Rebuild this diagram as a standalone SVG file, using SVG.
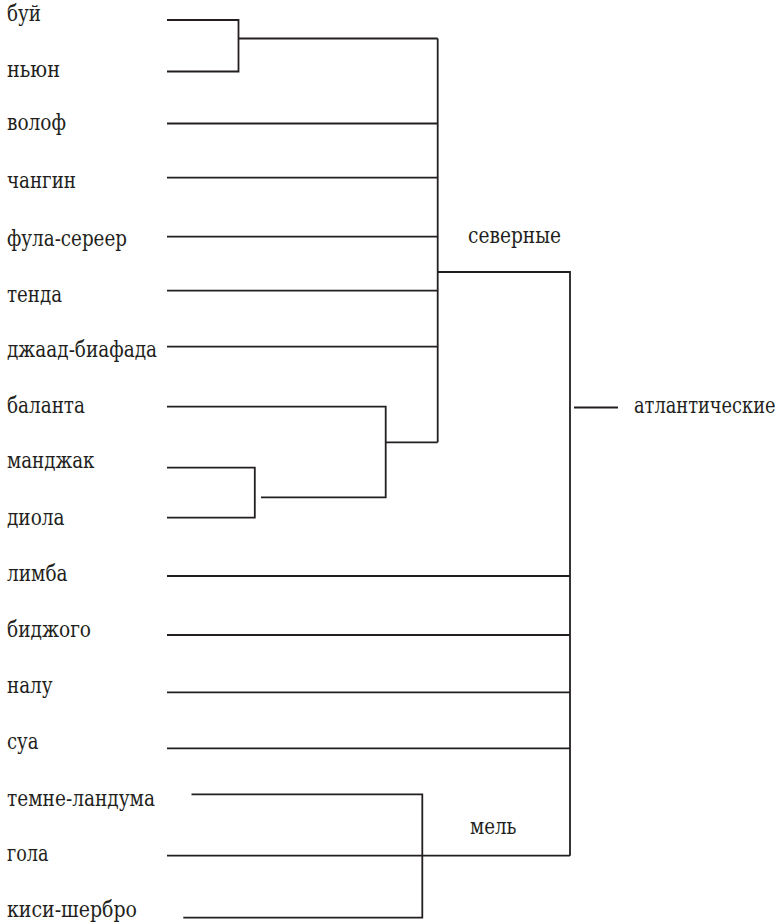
<svg xmlns="http://www.w3.org/2000/svg" width="782" height="922" viewBox="0 0 782 922" xml:lang="ru">
  <style>
    .lbl { font-family: "DejaVu Serif Condensed", "DejaVu Serif", "Liberation Serif", serif; font-size: 21.5px; fill: #231f20; }
    .edge { fill: none; stroke: #231f20; stroke-width: 1.8; stroke-linecap: butt; stroke-linejoin: miter; }
  </style>
  <rect width="782" height="922" fill="#ffffff"/>

  <!-- leaf languages -->
  <g id="buy"><text class="lbl" x="7" y="21" textLength="34" lengthAdjust="spacingAndGlyphs">буй</text></g>
  <g id="nyun"><text class="lbl" x="7" y="77" textLength="53" lengthAdjust="spacingAndGlyphs">ньюн</text></g>
  <g id="wolof"><text class="lbl" x="7" y="130" textLength="59" lengthAdjust="spacingAndGlyphs">волоф</text></g>
  <g id="cangin"><text class="lbl" x="7" y="188" textLength="69" lengthAdjust="spacingAndGlyphs">чангин</text></g>
  <g id="fula-sereer"><text class="lbl" x="7" y="246" textLength="120" lengthAdjust="spacingAndGlyphs">фула-сереер</text></g>
  <g id="tenda"><text class="lbl" x="7" y="301.5" textLength="55" lengthAdjust="spacingAndGlyphs">тенда</text></g>
  <g id="jaad-biafada"><text class="lbl" x="7" y="356.5" textLength="150" lengthAdjust="spacingAndGlyphs">джаад-биафада</text></g>
  <g id="balanta"><text class="lbl" x="7" y="413" textLength="78" lengthAdjust="spacingAndGlyphs">баланта</text></g>
  <g id="manjak"><text class="lbl" x="7" y="468" textLength="87.5" lengthAdjust="spacingAndGlyphs">манджак</text></g>
  <g id="diola"><text class="lbl" x="7" y="525" textLength="57.5" lengthAdjust="spacingAndGlyphs">диола</text></g>
  <g id="limba"><text class="lbl" x="7" y="581" textLength="60.5" lengthAdjust="spacingAndGlyphs">лимба</text></g>
  <g id="bijogo"><text class="lbl" x="7" y="637" textLength="84" lengthAdjust="spacingAndGlyphs">биджого</text></g>
  <g id="nalu"><text class="lbl" x="7" y="693" textLength="45.5" lengthAdjust="spacingAndGlyphs">налу</text></g>
  <g id="sua"><text class="lbl" x="7" y="749" textLength="31.5" lengthAdjust="spacingAndGlyphs">суа</text></g>
  <g id="temne-landuma"><text class="lbl" x="7" y="805.5" textLength="148" lengthAdjust="spacingAndGlyphs">темне-ландума</text></g>
  <g id="gola"><text class="lbl" x="7" y="861" textLength="41.5" lengthAdjust="spacingAndGlyphs">гола</text></g>
  <g id="kisi-sherbro"><text class="lbl" x="7" y="917" textLength="130" lengthAdjust="spacingAndGlyphs">киси-шербро</text></g>

  <!-- group labels -->
  <g id="northern"><text class="lbl" x="468" y="243" textLength="93" lengthAdjust="spacingAndGlyphs">северные</text></g>
  <g id="mel"><text class="lbl" x="470" y="834" textLength="46.5" lengthAdjust="spacingAndGlyphs">мель</text></g>
  <g id="atlantic"><text class="lbl" x="634" y="413" textLength="141.5" lengthAdjust="spacingAndGlyphs">атлантические</text></g>

  <!-- tree connectors -->
  <g id="connectors" class="edge">
    <!-- буй + ньюн -->
    <path d="M167,20 H238.5 V71.5 H167"/>
    <path d="M238.5,38.5 H437.7"/>
    <!-- northern branch -->
    <path d="M437.7,38.5 V442.3"/>
    <path d="M167,123.5 H437.7"/>
    <path d="M167,177.7 H437.7"/>
    <path d="M167,236.7 H437.7"/>
    <path d="M167,290.7 H437.7"/>
    <path d="M167,346.7 H437.7"/>
    <!-- баланта + (манджак, диола) -->
    <path d="M167,467.7 H254.8 V517.7 H167"/>
    <path d="M261,497.3 H385.7 V406.7 H167"/>
    <path d="M385.7,442.3 H437.7"/>
    <!-- northern to atlantic -->
    <path d="M437.7,272 H570 V855.7"/>
    <path d="M167,576 H570"/>
    <path d="M167,635 H570"/>
    <path d="M167,692.3 H570"/>
    <path d="M167,748.3 H570"/>
    <!-- мель -->
    <path d="M191.5,794.3 H422.3 V917.7 H183.3"/>
    <path d="M167,855.7 H570"/>
    <!-- root stub -->
    <path d="M574,407.5 H618"/>
  </g>
</svg>
